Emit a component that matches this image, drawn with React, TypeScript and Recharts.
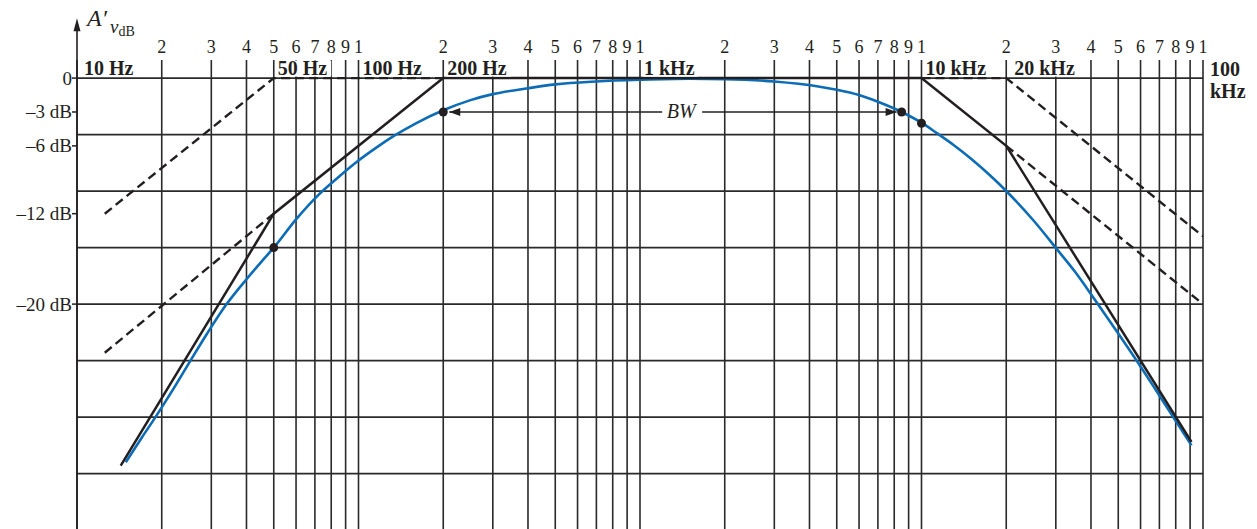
import { LineChart, Line, XAxis, YAxis, CartesianGrid, ReferenceLine, ReferenceDot } from 'recharts';

// log frequency grid (Hz)
const freqTicks = [
  10, 20, 30, 40, 50, 60, 70, 80, 90,
  100, 200, 300, 400, 500, 600, 700, 800, 900,
  1000, 2000, 3000, 4000, 5000, 6000, 7000, 8000, 9000,
  10000, 20000, 30000, 40000, 50000, 60000, 70000, 80000, 90000,
  100000,
];
const dbTicks = [0, -3, -6, -12, -20];
const dbGrid = [0, -5, -10, -15, -20, -25, -30, -35];

const respFreq = [
  14.9, 17, 19, 22, 25.3, 29, 34, 40, 45, 50, 60, 73, 85, 100, 115, 134, 160, 200, 250, 300, 400, 500, 700,
  1000, 1500, 2000, 3000, 4300, 5000, 6000, 7000, 8500, 10000, 11300, 13000, 15000, 17500, 20200, 25000,
  30400, 35000, 41000, 50000, 59200, 68000, 78900, 91000,
];
const respDb = [
  -34, -31.8, -30, -27.5, -25, -22.6, -20, -17.8, -16.3, -15, -12.5, -10.2, -8.75, -7.3, -6.2, -5.1, -4, -2.85, -1.95, -1.42, -0.9, -0.56, -0.3,
  -0.15, -0.06, -0.09, -0.3, -0.74, -1.03, -1.5, -2.1, -3, -3.95, -4.85, -5.92, -7.14, -8.6, -10.1, -12.6,
  -15.2, -17.1, -19.5, -22.6, -25.3, -27.6, -30.1, -32.5,
];

// Bode asymptotes (solid)
const asymFreq = [14.3, 50, 200, 10000, 20000, 91000];
const asymDb = [-34.3, -12, 0, 0, -6, -32.2];

// individual pole asymptotes (dashed)
const lo1Freq = [12.55, 50, 200];
const lo1Db = [-12, 0, 0];
const lo2Freq = [12.55, 50];
const lo2Db = [-24.3, -12];
const hi1Freq = [10000, 20000, 100000];
const hi1Db = [0, 0, -14];
const hi2Freq = [20000, 100000];
const hi2Db = [-6, -20];

// marked points
const markFreq = [50, 200, 8500, 10000];
const markDb = [-15, -3, -3, -4];

const freqLabels = ['10 Hz', '50 Hz', '100 Hz', '200 Hz', '1 kHz', '10 kHz', '20 kHz'];
const freqLabelAt = [10, 50, 100, 200, 1000, 10000, 20000];

const FONT = '"Liberation Serif", "Times New Roman", serif';
const INK = '#231f20';
const GRID = '#2a2a2a';
const BLUE = '#0c6cb5';
const labelDx: Record<string, number> = { '10 Hz': 7, '20 kHz': 8 };

const pts = (fs: number[], ds: number[]) => fs.map((f, i) => ({ f, db: ds[i] }));

function TopTick(props: any) {
  const { x, y, payload } = props;
  if (payload.value === 10) return <g />;
  return (
    <text x={x} y={y} textAnchor="middle" fontFamily={FONT} fontSize={18} fill={INK}>
      {String(payload.value)[0]}
    </text>
  );
}

function LeftTick(props: any) {
  const { x, y, payload } = props;
  const v = payload.value;
  return (
    <text x={x} y={y} dy={6.5} textAnchor="end" fontFamily={FONT} fontSize={19} fill={INK}>
      {v === 0 ? '0' : `\u2013${-v} dB`}
    </text>
  );
}

const hzLabel = (text: string) => (p: any) => {
  const dx = labelDx[text] ?? 4;
  return (
    <g>
      <rect x={p.cx + dx - 1} y={p.cy - 17.5} width={text.length * 10.5 + 2} height={16} fill="#fff" />
      <text x={p.cx + dx} y={p.cy - 3} fontFamily={FONT} fontWeight="bold" fontSize={20} fill={INK}>{text}</text>
    </g>
  );
};

const kHz100Label = (p: any) => (
  <g fontFamily={FONT} fontWeight="bold" fontSize={20} fill={INK}>
    <text x={p.cx + 7} y={p.cy - 2}>100</text>
    <text x={p.cx + 7} y={p.cy + 20}>kHz</text>
  </g>
);

const bwLabel = (p: any) => (
  <g>
    <rect x={p.cx - 19} y={p.cy - 9} width={40} height={18} fill="#fff" />
    <text x={p.cx} y={p.cy + 6.5} textAnchor="middle" fontFamily={FONT} fontStyle="italic" fontSize={20} fill={INK}>BW</text>
  </g>
);

function BwArrow(p: any) {
  const { x1, y1, x2 } = p;
  const l = x1 + 6;
  const r = x2 - 5;
  return (
    <g>
      <line x1={l} y1={y1} x2={r} y2={y1} stroke={INK} strokeWidth={1.5} />
      <polygon points={`${l},${y1} ${l + 11},${y1 - 4} ${l + 11},${y1 + 4}`} fill={INK} />
      <polygon points={`${r},${y1} ${r - 11},${y1 - 4} ${r - 11},${y1 + 4}`} fill={INK} />
    </g>
  );
}

function AxisArrow(p: any) {
  const { x1, y1, y2 } = p;
  const top = Math.min(y1, y2);
  const bot = Math.max(y1, y2);
  return (
    <g>
      <line x1={x1} y1={top + 4} x2={x1} y2={bot} stroke={INK} strokeWidth={1.6} />
      <polygon points={`${x1},${top} ${x1 - 3.5},${top + 13} ${x1 + 3.5},${top + 13}`} fill={INK} />
    </g>
  );
}

export default function App() {
  return (
    <div style={{ position: 'relative', width: 1257, height: 529, background: '#fff' }}>
      <style>{'body{margin:0}'}</style>
      <LineChart width={1257} height={529} margin={{ top: 0, right: 54, bottom: 0, left: 0 }}>
        <CartesianGrid stroke={GRID} strokeWidth={1.6} horizontalValues={dbGrid} verticalValues={freqTicks} />
        <XAxis
          dataKey="f"
          type="number"
          scale="log"
          domain={[10, 100000]}
          ticks={freqTicks}
          interval={0}
          allowDataOverflow
          orientation="top"
          height={60}
          axisLine={false}
          tickLine={false}
          tickSize={0}
          tickMargin={7}
          tick={<TopTick />}
        />
        <YAxis
          type="number"
          domain={[-39.9, 1.6]}
          ticks={dbTicks}
          interval={0}
          allowDataOverflow
          width={77}
          axisLine={false}
          tickLine={{ stroke: INK, strokeWidth: 1.5 }}
          tickSize={5}
          tickMargin={0}
          tick={<LeftTick />}
        />
        <ReferenceLine segment={[{ x: 10, y: -39.9 }, { x: 10, y: 5.3 }]} ifOverflow="visible" shape={AxisArrow} />
        {freqLabels.map((t, i) => (
          <ReferenceDot key={t} x={freqLabelAt[i]} y={0} r={0} ifOverflow="visible" shape={hzLabel(t)} />
        ))}
        <ReferenceDot x={100000} y={0} r={0} ifOverflow="visible" shape={kHz100Label} />
        <ReferenceLine segment={[{ x: 200, y: -3 }, { x: 8500, y: -3 }]} ifOverflow="visible" shape={BwArrow} />
        <ReferenceDot x={1400} y={-3} r={0} ifOverflow="visible" shape={bwLabel} />

        <Line data={pts(lo1Freq, lo1Db)} dataKey="db" stroke={INK} strokeWidth={2.4} strokeDasharray="9 5" dot={false} isAnimationActive={false} />
        <Line data={pts(lo2Freq, lo2Db)} dataKey="db" stroke={INK} strokeWidth={2.4} strokeDasharray="9 5" dot={false} isAnimationActive={false} />
        <Line data={pts(hi1Freq, hi1Db)} dataKey="db" stroke={INK} strokeWidth={2.4} strokeDasharray="9 5" dot={false} isAnimationActive={false} />
        <Line data={pts(hi2Freq, hi2Db)} dataKey="db" stroke={INK} strokeWidth={2.4} strokeDasharray="9 5" dot={false} isAnimationActive={false} />
        <Line data={pts(respFreq, respDb)} dataKey="db" type="monotone" stroke={BLUE} strokeWidth={2.6} dot={false} isAnimationActive={false} />
        <Line data={pts(asymFreq, asymDb)} dataKey="db" stroke={INK} strokeWidth={2.5} dot={false} isAnimationActive={false} />

        {markFreq.map((f, i) => (
          <ReferenceDot key={f} x={f} y={markDb[i]} r={4.5} fill={INK} stroke="none" />
        ))}
      </LineChart>
      <svg width={160} height={45} style={{ position: 'absolute', left: 0, top: 0 }}>
        <text x={87} y={26} fontFamily={FONT} fontStyle="italic" fontSize={24} fill={INK}>A′</text>
        <text x={110} y={33} fontFamily={FONT} fontStyle="italic" fontSize={19} fill={INK}>v</text>
        <text x={118.5} y={35.5} fontFamily={FONT} fontSize={14} fill={INK}>dB</text>
      </svg>
    </div>
  );
}
